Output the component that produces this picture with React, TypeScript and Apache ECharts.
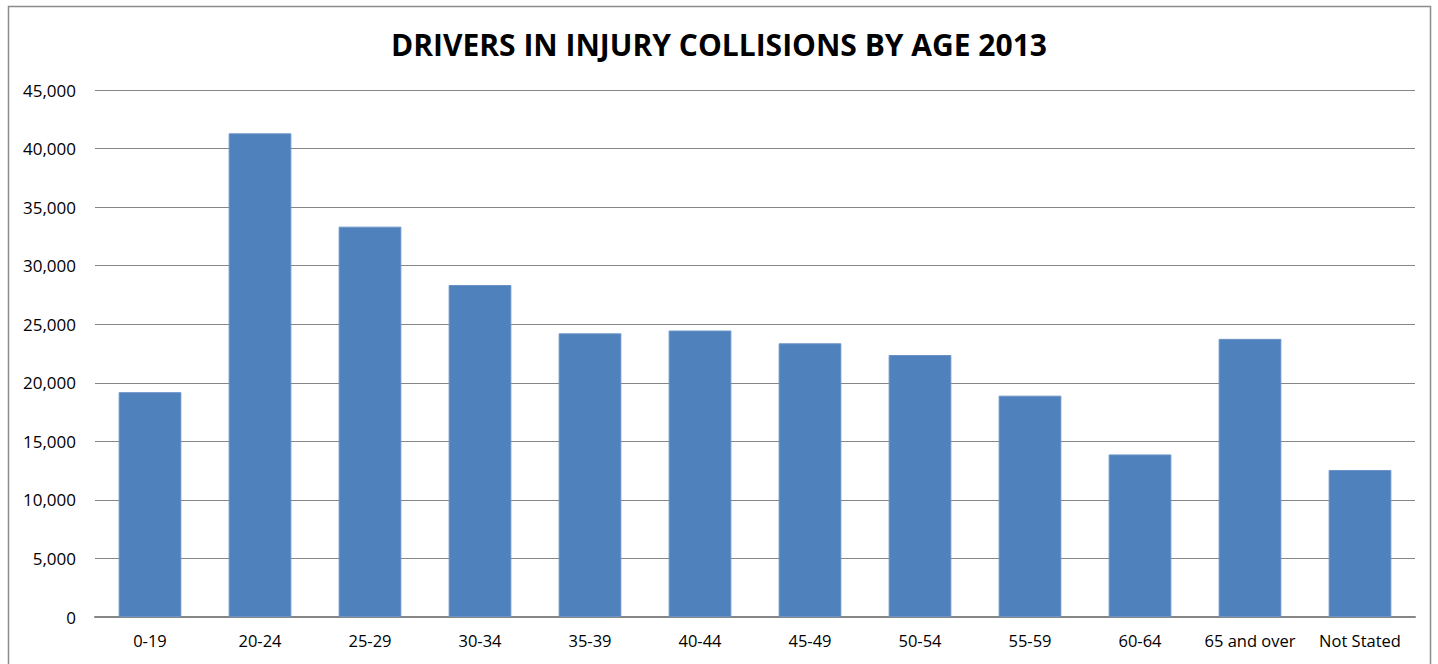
import React, { useEffect, useRef } from "react";
import * as echarts from "echarts";

const categories = ["0-19", "20-24", "25-29", "30-34", "35-39", "40-44", "45-49", "50-54", "55-59", "60-64", "65 and over", "Not Stated"];
const values = [19200, 41300, 33330, 28350, 24220, 24460, 23370, 22370, 18900, 13880, 23750, 12550];
const yTicks = { min: 0, max: 45000, interval: 5000 };
const title = "DRIVERS IN INJURY COLLISIONS BY AGE 2013";

export default function App() {
  const ref = useRef<HTMLDivElement>(null);
  useEffect(() => {
    if (!ref.current) return;
    const chart = echarts.init(ref.current, null, { renderer: "svg" });
    chart.setOption({
      animation: false,
      backgroundColor: "#ffffff",
      title: {
        text: title,
        left: "center",
        top: 24,
        textStyle: { fontFamily: "Open Sans", fontWeight: "bold", fontSize: 30, color: "#000" },
      },
      graphic: [
        {
          type: "rect",
          shape: { x: 8.5, y: 6.5, width: 1422, height: 680 },
          style: { fill: "none", stroke: "#8c8c8c", lineWidth: 1.5 },
          silent: true,
        },
      ],
      grid: { left: 95, right: 23, top: 90, bottom: 47, containLabel: false },
      xAxis: {
        type: "category",
        data: categories,
        axisLine: { lineStyle: { color: "#868686", width: 2 } },
        axisTick: { show: false },
        axisLabel: { color: "#000", fontFamily: "Open Sans", fontSize: 16.5, margin: 15, interval: 0, hideOverlap: false },
      },
      yAxis: {
        type: "value",
        min: yTicks.min,
        max: yTicks.max,
        interval: yTicks.interval,
        axisLine: { show: false },
        axisTick: { show: false },
        splitLine: { lineStyle: { color: "#868686", width: 1 } },
        axisLabel: {
          color: "#000",
          fontFamily: "Open Sans",
          fontSize: 17,
          margin: 19,
          formatter: (v: number) => v.toLocaleString("en-US"),
        },
      },
      series: [
        {
          type: "bar",
          data: values,
          barCategoryGap: "43%",
          itemStyle: { color: "#4f81bd", borderColor: "#6a93c7", borderWidth: 1 },
        },
      ],
    });
    return () => chart.dispose();
  }, []);
  return <div ref={ref} style={{ position: "fixed", left: 0, top: 0, width: 1438, height: 664 }} />;
}
